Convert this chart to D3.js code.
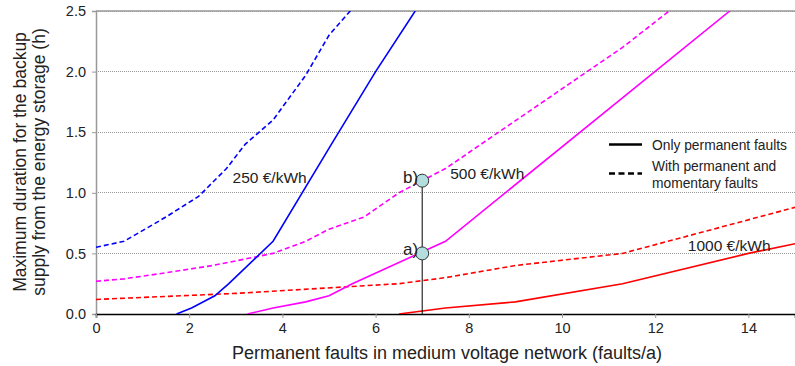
<!DOCTYPE html>
<html>
<head>
<meta charset="utf-8">
<script src="https://cdn.jsdelivr.net/npm/d3@7"></script>
<style>
  body { margin: 0; background: #fff; }
  svg { display: block; font-family: "Liberation Sans", Arial, sans-serif; }
</style>
</head>
<body>
<svg id="chart" width="795" height="366"></svg>
<script>
// values: [faults/a, hours]
const blueDashed = [[0, 0.55], [0.6, 0.6], [1.5, 0.8], [2.2, 0.97], [2.8, 1.2], [3.2, 1.4], [3.8, 1.6], [4.5, 1.97], [5.0, 2.3], [5.5, 2.52]]
const blueSolid = [[1.73, 0], [2.05, 0.05], [2.55, 0.15], [2.85, 0.25], [3.8, 0.6], [5.05, 1.4], [6.0, 2.0], [6.85, 2.5]]
const magentaDashed = [[0, 0.27], [0.6, 0.29], [1.5, 0.34], [2.5, 0.4], [3.8, 0.5], [4.5, 0.6], [5.0, 0.7], [5.75, 0.8], [6.5, 1.0], [7.5, 1.2], [11.3, 2.2], [12.3, 2.5]]
const magentaSolid = [[3.25, 0], [3.8, 0.05], [4.5, 0.1], [5.0, 0.15], [5.5, 0.25], [7.5, 0.6], [13.6, 2.5]]
const redDashed = [[0, 0.12], [3, 0.17], [6.5, 0.25], [7.5, 0.3], [9, 0.4], [11.3, 0.5], [15, 0.88]]
const redSolid = [[6.5, 0], [7.5, 0.05], [9, 0.1], [11.3, 0.25], [14, 0.5], [15, 0.58]]

const xTicks = [0, 2, 4, 6, 8, 10, 12, 14]
const yTicks = [0, 0.5, 1.0, 1.5, 2.0, 2.5]
const markerX = 7
const markers = [{ label: "a)", y: 0.5 }, { label: "b)", y: 1.1 }]

const svg = d3.select("#chart")
const x = d3.scaleLinear().domain([0, 15]).range([96, 795])
const y = d3.scaleLinear().domain([0, 2.5]).range([314, 11])

// gridlines
svg.append("g")
    .selectAll("line")
    .data(yTicks.filter(d => d > 0))
    .enter()
    .append("line")
    .attr("x1", x(0)).attr("x2", x(15))
    .attr("y1", d => y(d)).attr("y2", d => y(d))
    .attr("stroke", "#999")
    .attr("stroke-width", 1)
    .attr("stroke-dasharray", "1,1")
    .attr("shape-rendering", "crispEdges")

// top border
svg.append("line")
    .attr("x1", x(0)).attr("x2", x(15))
    .attr("y1", y(2.5)).attr("y2", y(2.5))
    .attr("stroke", "#999").attr("stroke-width", 1.5)

const tickFont = "'Liberation Sans Narrow', 'Liberation Sans', Arial, sans-serif"

// y axis
const yAxis = svg.append("g")
    .attr("transform", `translate(${x(0)},0)`)
    .call(d3.axisLeft(y).tickValues(yTicks).tickFormat(d3.format(".1f")).tickSize(4).tickPadding(6))
yAxis.select(".domain").attr("stroke", "#999").attr("stroke-width", 1.5)
yAxis.selectAll(".tick line").attr("stroke", "#999")
yAxis.selectAll("text").attr("font-size", 14.5).attr("fill", "#222").attr("font-family", tickFont)

// x axis
const xAxis = svg.append("g")
    .attr("transform", `translate(0,${y(0)})`)
    .call(d3.axisBottom(x).tickValues(xTicks).tickFormat(d3.format("d")).tickSize(4).tickPadding(5))
xAxis.select(".domain").attr("stroke", "#000").attr("stroke-width", 1.5)
xAxis.selectAll(".tick line").attr("stroke", "#999")
xAxis.selectAll("text").attr("font-size", 14.5).attr("fill", "#222").attr("font-family", tickFont)

// curves
const line = d3.line().x(d => x(d[0])).y(d => y(d[1]))
svg.append("clipPath").attr("id", "plot-clip")
    .append("rect").attr("x", x(0)).attr("y", y(2.5)).attr("width", x(15) - x(0)).attr("height", y(0) - y(2.5))

const series = [
    { data: redDashed, color: "#ff0000", dash: "5,3" },
    { data: redSolid, color: "#ff0000", dash: null },
    { data: magentaDashed, color: "#ff00ff", dash: "5,3" },
    { data: magentaSolid, color: "#ff00ff", dash: null },
    { data: blueDashed, color: "#0000ff", dash: "5,3" },
    { data: blueSolid, color: "#0000ff", dash: null }
]
svg.append("g").attr("clip-path", "url(#plot-clip)")
    .selectAll("path")
    .data(series)
    .enter()
    .append("path")
    .attr("d", d => line(d.data))
    .attr("fill", "none")
    .attr("stroke", d => d.color)
    .attr("stroke-width", 1.6)
    .attr("stroke-dasharray", d => d.dash)

// vertical marker line and points
svg.append("line")
    .attr("x1", x(markerX)).attr("x2", x(markerX))
    .attr("y1", y(0)).attr("y2", y(1.1))
    .attr("stroke", "#000").attr("stroke-width", 1)

svg.selectAll(".marker")
    .data(markers)
    .enter()
    .append("circle")
    .attr("class", "marker")
    .attr("cx", x(markerX))
    .attr("cy", d => y(d.y))
    .attr("r", 6.5)
    .attr("fill", "#b4dddd")
    .attr("stroke", "#333")
    .attr("stroke-width", 1)

svg.selectAll(".marker-label")
    .data(markers)
    .enter()
    .append("text")
    .attr("class", "marker-label")
    .attr("x", x(markerX) - 4)
    .attr("y", d => y(d.y) + 2)
    .attr("text-anchor", "end")
    .attr("font-size", 17)
    .attr("fill", "#222")
    .text(d => d.label)

// price labels
const priceLabels = [
    { text: "250 €/kWh", x: 2.93, y: 1.08 },
    { text: "500 €/kWh", x: 7.6, y: 1.11 },
    { text: "1000 €/kWh", x: 12.7, y: 0.52 }
]
svg.selectAll(".price")
    .data(priceLabels)
    .enter()
    .append("text")
    .attr("class", "price")
    .attr("x", d => x(d.x))
    .attr("y", d => y(d.y))
    .attr("font-size", 15.5)
    .attr("fill", "#222")
    .text(d => d.text)

// legend
const legend = svg.append("g")
legend.append("line").attr("x1", 609).attr("x2", 642).attr("y1", 144.5).attr("y2", 144.5)
    .attr("stroke", "#000").attr("stroke-width", 2.5)
legend.append("line").attr("x1", 609).attr("x2", 642).attr("y1", 173.5).attr("y2", 173.5)
    .attr("stroke", "#000").attr("stroke-width", 2.5).attr("stroke-dasharray", "6,3.5")
legend.append("text").attr("x", 652).attr("y", 149.5).attr("font-size", 13.8).attr("fill", "#222")
    .text("Only permanent faults")
legend.append("text").attr("x", 652).attr("y", 170.5).attr("font-size", 13.8).attr("fill", "#222")
    .text("With permanent and")
legend.append("text").attr("x", 652).attr("y", 187.5).attr("font-size", 13.8).attr("fill", "#222")
    .text("momentary faults")

// axis titles
svg.append("text")
    .attr("x", 447).attr("y", 359)
    .attr("text-anchor", "middle")
    .attr("font-size", 18)
    .attr("fill", "#222")
    .text("Permanent faults in medium voltage network (faults/a)")

const yTitle = svg.append("text")
    .attr("transform", "translate(0,162) rotate(-90)")
    .attr("text-anchor", "middle")
    .attr("font-size", 17.5)
    .attr("fill", "#222")
yTitle.append("tspan").attr("x", 0).attr("y", 26).text("Maximum duration for the backup")
yTitle.append("tspan").attr("x", 0).attr("y", 45).text("supply from the energy storage (h)")
</script>
</body>
</html>
